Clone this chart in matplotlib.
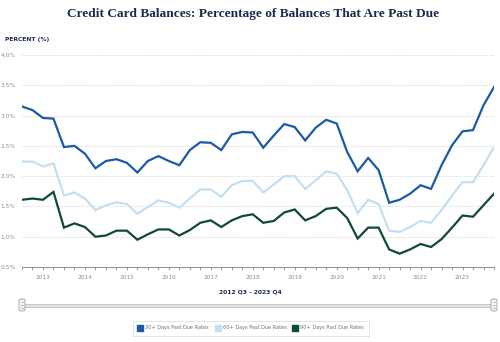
import matplotlib
matplotlib.use("Agg")
import matplotlib.pyplot as plt
from matplotlib.lines import Line2D
from matplotlib.patches import FancyBboxPatch, Rectangle
import numpy as np

# Quarterly observations, 2012 Q3 through 2023 Q4
quarters = [f"{y} Q{q}" for y in range(2012, 2024) for q in range(1, 5)][2:]

past_due_30 = [3.15, 3.09, 2.96, 2.95, 2.48, 2.50, 2.37, 2.13, 2.25, 2.28, 2.22, 2.06,
               2.25, 2.33, 2.25, 2.18, 2.43, 2.56, 2.55, 2.43, 2.69, 2.73, 2.72, 2.47,
               2.67, 2.86, 2.81, 2.59, 2.80, 2.93, 2.87, 2.40, 2.08, 2.30, 2.10, 1.56,
               1.61, 1.71, 1.85, 1.79, 2.18, 2.51, 2.74, 2.76, 3.17, 3.47]
past_due_60 = [2.24, 2.24, 2.16, 2.21, 1.68, 1.73, 1.63, 1.44, 1.52, 1.57, 1.54, 1.38,
               1.49, 1.60, 1.56, 1.48, 1.63, 1.78, 1.78, 1.66, 1.85, 1.92, 1.92, 1.73,
               1.86, 2.00, 2.00, 1.79, 1.93, 2.08, 2.04, 1.77, 1.39, 1.61, 1.54, 1.10,
               1.08, 1.16, 1.26, 1.23, 1.44, 1.68, 1.90, 1.90, 2.18, 2.48]
past_due_90 = [1.61, 1.63, 1.61, 1.74, 1.15, 1.22, 1.16, 1.00, 1.02, 1.10, 1.10, 0.95,
               1.04, 1.12, 1.12, 1.02, 1.11, 1.23, 1.27, 1.16, 1.27, 1.34, 1.37, 1.23,
               1.26, 1.40, 1.45, 1.27, 1.34, 1.46, 1.48, 1.31, 0.97, 1.15, 1.15, 0.79,
               0.72, 0.79, 0.88, 0.83, 0.96, 1.15, 1.35, 1.33, 1.52, 1.71]

series_labels = ["30+ Days Past Due Rates", "60+ Days Past Due Rates", "90+ Days Past Due Rates"]
series_colors = ["#1b5aa6", "#c4dff2", "#0e4a35"]
y_ticks = [0.5, 1.0, 1.5, 2.0, 2.5, 3.0, 3.5, 4.0]
year_labels = [str(y) for y in range(2013, 2024)]

W, H = 500, 342
fig = plt.figure(figsize=(W / 100, H / 100), dpi=100)
fig.patch.set_facecolor("white")

navy = "#1b2a4e"
grey_txt = "#8a8f96"

fig.text(0.507, 1 - 14 / H, "Credit Card Balances: Percentage of Balances That Are Past Due",
         ha="center", va="center", fontsize=9.6, fontweight="bold",
         family="Liberation Serif", color=navy)
fig.text(5 / W, 1 - 40 / H, "PERCENT (%)", ha="left", va="center",
         fontsize=4.3, fontweight="bold", color=navy)

left, right, top, bottom = 22, 494, 55, 267
ax = fig.add_axes([left / W, 1 - bottom / H, (right - left) / W, (bottom - top) / H])

x = np.arange(len(quarters))
for vals, col in zip([past_due_60, past_due_90, past_due_30],
                     [series_colors[1], series_colors[2], series_colors[0]]):
    ax.plot(x, vals, color=col, lw=1.6, solid_joinstyle="miter", zorder=3)

ax.set_xlim(0, len(quarters) - 1)
ax.set_ylim(0.5, 4.0)
ax.set_yticks(y_ticks)
ax.set_yticklabels([f"{v:.1f}%" for v in y_ticks])
for v in y_ticks[1:]:
    ax.axhline(v, color="#c9c9c9", lw=0.6, ls=(0, (1, 1.5)), zorder=1)

year_pos = [quarters.index(f"{y} Q1") for y in range(2013, 2024)]
ax.set_xticks(year_pos)
ax.set_xticklabels(year_labels)
ax.set_xticks(x, minor=True)
ax.tick_params(axis="x", which="both", direction="out", length=2, width=0.5,
               color="#7a7a7a", labelsize=4.2, labelcolor=grey_txt, pad=4)
ax.tick_params(axis="y", length=0, labelsize=4.2, labelcolor=grey_txt, pad=3)
for lab in ax.get_yticklabels():
    lab.set_horizontalalignment("left")
    lab.set_x(-17 / (right - left))
for s in ["top", "right", "left"]:
    ax.spines[s].set_visible(False)
ax.spines["bottom"].set_color("#7a7a7a")
ax.spines["bottom"].set_linewidth(0.6)

fig.text(250 / W, 1 - 292 / H, "2012 Q3 - 2023 Q4", ha="center", va="center",
         fontsize=4.3, fontweight="bold", color=navy)

# range slider track and handles
fig.patches.append(Rectangle((left / W, 1 - 307 / H), (right - left) / W, 3 / H,
                             transform=fig.transFigure, facecolor="#e3e3e3",
                             edgecolor="#b5b5b5", lw=0.5))
for hx in (left, right):
    fig.patches.append(FancyBboxPatch(((hx - 3) / W, 1 - 311 / H), 6 / W, 12 / H,
                                      boxstyle="round,pad=0,rounding_size=0.004",
                                      transform=fig.transFigure, facecolor="#f4f4f4",
                                      edgecolor="#8c8c8c", lw=0.5))
    for dy in (302, 305, 308):
        fig.lines.append(Line2D([(hx - 1) / W, (hx + 1) / W], [1 - dy / H] * 2,
                                transform=fig.transFigure, color="#8c8c8c", lw=0.4))

handles = [Line2D([], [], marker="s", ls="none", markersize=5, markerfacecolor=c,
                  markeredgecolor=c) for c in series_colors]
leg = fig.legend(handles, series_labels, loc="center", ncol=3,
                 bbox_to_anchor=(251 / W, 1 - 328 / H), fontsize=3.6, frameon=True,
                 fancybox=False, edgecolor="#cfcfcf", handletextpad=0.6,
                 columnspacing=1.4, borderpad=1.0, handlelength=0.8)
leg.get_frame().set_linewidth(0.5)
for t in leg.get_texts():
    t.set_color("#6c7079")

fig.savefig("out.png", dpi=100)
